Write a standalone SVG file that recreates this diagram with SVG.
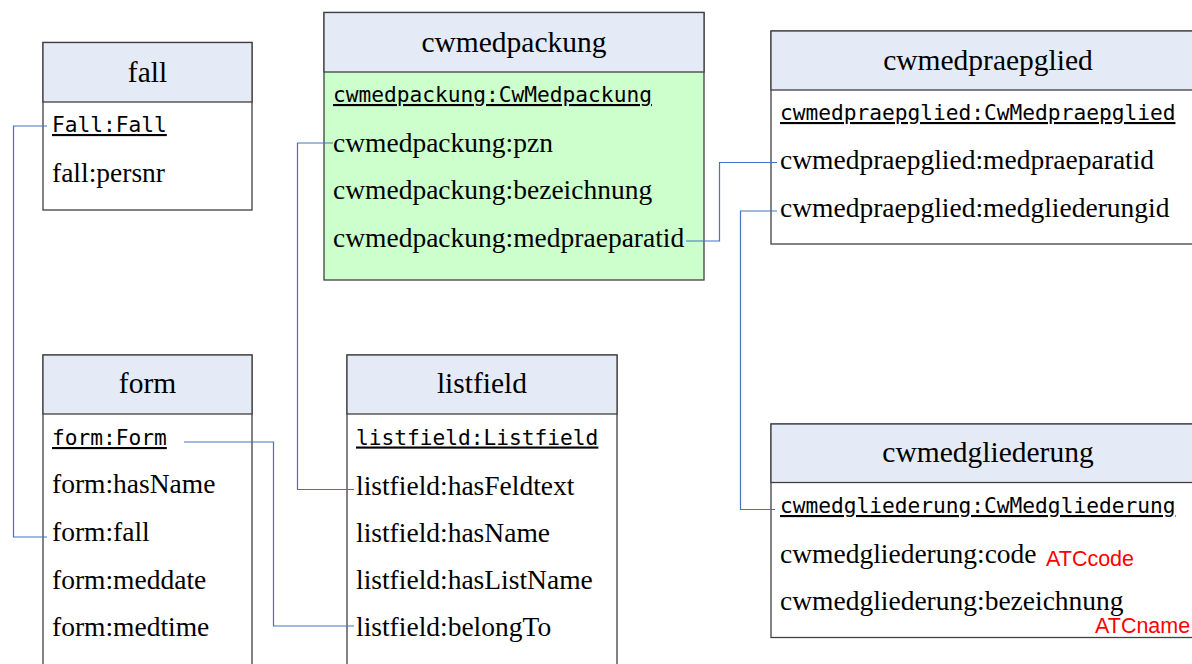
<svg xmlns="http://www.w3.org/2000/svg" width="1192" height="664" viewBox="0 0 1192 664">
<style>
.box{fill:#ffffff;stroke:#404040;stroke-width:1.3}
.hdr{fill:#E5EBF6;stroke:#404040;stroke-width:1.3}
.green{fill:#CCFFCC;stroke:#404040;stroke-width:1.3}
.title{font-family:"Liberation Serif",serif;font-size:29.5px;fill:#000;text-anchor:middle}
.row{font-family:"Liberation Serif",serif;font-size:27.5px;fill:#000}
.mono{font-family:"DejaVu Sans Mono","Liberation Mono",monospace;font-size:21.2px;fill:#000;text-decoration:underline}
.note{font-family:"Liberation Sans",Arial,sans-serif;font-size:21.5px;fill:#FF0000}
.conn{fill:none;stroke:#4472C4;stroke-width:1.2}
</style>
<rect width="1192" height="664" fill="#ffffff"/>
<g id="fall">
<rect class="box" x="43" y="42.5" width="209" height="167.5"/>
<rect class="hdr" x="43" y="42.5" width="209" height="59.5"/>
<text class="title" x="147.5" y="82">fall</text>
<text class="mono" x="52" y="132">Fall:Fall</text>
<text class="row" x="52" y="182">fall:persnr</text>
</g>
<g id="cwmedpackung">
<rect class="green" x="324" y="12.5" width="380" height="267.5"/>
<rect class="hdr" x="324" y="12.5" width="380" height="59.5"/>
<text class="title" x="514" y="52">cwmedpackung</text>
<text class="mono" x="333" y="102">cwmedpackung:CwMedpackung</text>
<text class="row" x="333" y="151.5">cwmedpackung:pzn</text>
<text class="row" x="333" y="199">cwmedpackung:bezeichnung</text>
<text class="row" x="333" y="247">cwmedpackung:medpraeparatid</text>
</g>
<g id="cwmedpraepglied">
<rect class="box" x="771" y="31" width="440" height="213"/>
<rect class="hdr" x="771" y="31" width="440" height="59"/>
<text class="title" x="988" y="70">cwmedpraepglied</text>
<text class="mono" x="780" y="120">cwmedpraepglied:CwMedpraepglied</text>
<text class="row" x="780" y="168.5">cwmedpraepglied:medpraeparatid</text>
<text class="row" x="780" y="216.5">cwmedpraepglied:medgliederungid</text>
</g>
<g id="form">
<rect class="box" x="43" y="355" width="209" height="330"/>
<rect class="hdr" x="43" y="355" width="209" height="59"/>
<text class="title" x="147.5" y="393">form</text>
<text class="mono" x="52" y="445">form:Form</text>
<text class="row" x="52" y="493">form:hasName</text>
<text class="row" x="52" y="541">form:fall</text>
<text class="row" x="52" y="588.5">form:meddate</text>
<text class="row" x="52" y="636">form:medtime</text>
</g>
<g id="listfield">
<rect class="box" x="347" y="355" width="270" height="330"/>
<rect class="hdr" x="347" y="355" width="270" height="59"/>
<text class="title" x="482" y="393">listfield</text>
<text class="mono" x="356" y="444.5">listfield:Listfield</text>
<text class="row" x="356" y="495">listfield:hasFeldtext</text>
<text class="row" x="356" y="541.5">listfield:hasName</text>
<text class="row" x="356" y="588.5">listfield:hasListName</text>
<text class="row" x="356" y="636">listfield:belongTo</text>
</g>
<g id="cwmedgliederung">
<rect class="box" x="771" y="424" width="440" height="213.5"/>
<rect class="hdr" x="771" y="424" width="440" height="58.5"/>
<text class="title" x="988" y="462">cwmedgliederung</text>
<text class="mono" x="780" y="513">cwmedgliederung:CwMedgliederung</text>
<text class="row" x="780" y="562.5">cwmedgliederung:code</text>
<text class="row" x="780" y="610">cwmedgliederung:bezeichnung</text>
<text class="note" x="1046" y="566">ATCcode</text>
<text class="note" x="1095" y="633">ATCname</text>
</g>
<g id="connectors">
<path class="conn" d="M47 126 H13.5 V537 H47"/>
<path class="conn" d="M333 143 H297.5 V489.5 H354"/>
<path class="conn" d="M686 241 H719.5 V162.5 H777"/>
<path class="conn" d="M777 211 H740.5 V509.5 H775"/>
<path class="conn" d="M184 442 H273.5 V626 H354"/>
</g>
</svg>
